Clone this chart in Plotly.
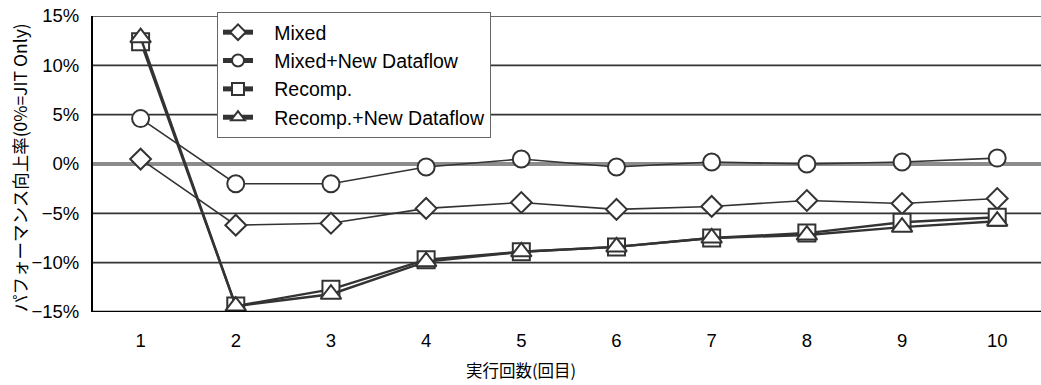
import plotly.graph_objects as go

runs = [1, 2, 3, 4, 5, 6, 7, 8, 9, 10]
mixed = [0.5, -6.2, -6.0, -4.5, -3.9, -4.6, -4.3, -3.7, -4.0, -3.5]
mixed_ndf = [4.6, -2.0, -2.0, -0.3, 0.5, -0.3, 0.2, 0.0, 0.2, 0.6]
recomp = [12.4, -14.4, -12.7, -9.7, -8.9, -8.4, -7.5, -7.0, -5.9, -5.4]
recomp_ndf = [12.8, -14.4, -13.2, -9.9, -8.9, -8.4, -7.5, -7.2, -6.4, -5.8]
y_ticks = [15, 10, 5, 0, -5, -10, -15]
y_labels = ["15%", "10%", "5%", "0%", "−5%", "−10%", "−15%"]
names = ["Mixed", "Mixed+New Dataflow", "Recomp.", "Recomp.+New Dataflow"]

series = [
    (names[0], mixed, "diamond", 16, 1.6),
    (names[1], mixed_ndf, "circle", 17, 1.6),
    (names[2], recomp, "square", 17, 2.4),
    (names[3], recomp_ndf, "triangle-up", 18, 2.4),
]

W, H = 1041, 385
L, T, B = 93, 16, 73
PW, PH = W - L, H - T - B

fig = go.Figure()
for g in [15, 10, 5, -5, -10]:
    fig.add_shape(type="line", xref="paper", x0=0, x1=1, yref="y", y0=g, y1=g,
                  line=dict(color="#333333", width=1.6), layer="below")
fig.add_shape(type="line", xref="paper", x0=0, x1=1, yref="y", y0=0, y1=0,
              line=dict(color="#8c8c8c", width=4), layer="below")
for name, vals, sym, sz, lw in series:
    fig.add_trace(go.Scatter(
        x=runs, y=vals, name="\u00a0\u00a0\u00a0" + name, mode="lines+markers",
        line=dict(color="#333333", width=lw),
        marker=dict(symbol=sym, size=sz, color="white",
                    line=dict(color="#333333", width=2)),
    ))

fig.update_layout(
    template="none",
    width=W, height=H,
    margin=dict(l=L, r=0, t=T, b=B, autoexpand=False),
    paper_bgcolor="white", plot_bgcolor="white",
    font=dict(family="Liberation Sans, Arial, sans-serif", size=18.5, color="black"),
    showlegend=True,
    legend=dict(x=(217 - L) / PW, y=1 - 12 / H, yref="container",
                xanchor="left", yanchor="top",
                bgcolor="white", bordercolor="#666666", borderwidth=1,
                font=dict(size=19.5, family="Liberation Sans, Arial, sans-serif"),
                itemsizing="constant", tracegroupgap=0),
    xaxis=dict(range=[0.5, 10.46], tickmode="array", tickvals=runs,
               ticktext=[str(r) for r in runs], showgrid=False, zeroline=False,
               showline=False, ticks="outside", ticklen=12,
               tickcolor="rgba(0,0,0,0)", automargin=False),
    yaxis=dict(range=[-15, 15], tickmode="array", tickvals=y_ticks, ticktext=y_labels,
               showgrid=False, zeroline=False, ticklabeloverflow="allow",
               showline=True, linecolor="black", linewidth=2, ticks="outside",
               ticklen=8, tickcolor="rgba(0,0,0,0)", automargin=False),
)
fig.add_shape(type="line", xref="paper", x0=0, x1=1, yref="y", y0=-15, y1=-15,
              line=dict(color="black", width=2.5))
fig.add_annotation(text="パフォーマンス向上率(0%=JIT Only)", xref="paper", yref="paper",
                   x=(19 - L) / PW, y=(T + PH - 168) / PH, xanchor="center",
                   yanchor="middle", textangle=-90, showarrow=False,
                   font=dict(family="Noto Sans CJK JP", size=17.5, color="black"))
fig.add_annotation(text="実行回数(回目)", xref="paper", yref="paper",
                   x=(521 - L) / PW, y=(T + PH - 370) / PH, yanchor="middle",
                   showarrow=False,
                   font=dict(family="Noto Sans CJK JP", size=16.5, color="black"))

fig.write_html("out.html", config={"displayModeBar": False},
               post_script="document.body.style.margin='0px';document.body.style.overflow='hidden';")
